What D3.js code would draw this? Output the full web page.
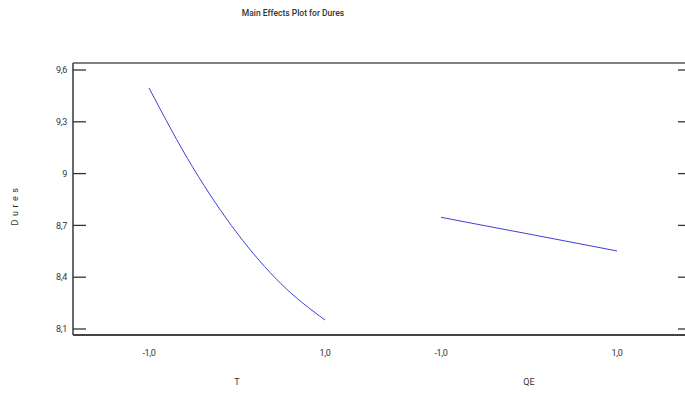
<!DOCTYPE html>
<html><head><meta charset="utf-8">
<script src="https://cdn.jsdelivr.net/npm/d3@7"></script>
<style>body{margin:0;background:#fff}svg{display:block}text{font-family:Roboto,"Liberation Sans",sans-serif;fill:#333}</style>
</head><body>
<svg id="c" width="685" height="394"></svg>
<script>
const factors = ["T", "QE"];
const levels = [-1, -0.5, 0, 0.5, 1];
const valuesT = [9.496, 9.034, 8.656, 8.362, 8.152];
const valuesQE = [8.747, 8.698, 8.650, 8.601, 8.552];
const yTicks = [8.1, 8.4, 8.7, 9.0, 9.3, 9.6];
const xTickLevels = [-1, 1];
const title = "Main Effects Plot for Dures";
const yLabel = "Dures";

const svg = d3.select("#c");
const L = 73, R = 686, T = 63, B = 335;

const y = d3.scaleLinear().domain([8.1, 9.6]).range([329, 70]);
const band = d3.scaleBand().domain(factors).range([91, 675]).padding(0);
const inner = d3.scaleLinear().domain([-1, 1]).range([-88, 88]);
const xPos = (f, v) => band(f) + band.bandwidth() / 2 + inner(v);

const fmtY = v => (Number.isInteger(v) ? String(v) : v.toFixed(1)).replace(".", ",");
const fmtX = v => v.toFixed(1).replace(".", ",");

// frame
svg.append("line").attr("x1", L).attr("x2", R).attr("y1", T).attr("y2", T).attr("stroke", "#555").attr("stroke-width", 1.5);
svg.append("line").attr("x1", L).attr("x2", R).attr("y1", B).attr("y2", B).attr("stroke", "#444").attr("stroke-width", 2.2);
svg.append("line").attr("x1", L).attr("x2", L).attr("y1", T).attr("y2", B).attr("stroke", "#444").attr("stroke-width", 1.6);

// left axis ticks (inside)
const gy = svg.append("g");
yTicks.forEach(v => {
  gy.append("line").attr("x1", L).attr("x2", L + 13).attr("y1", y(v)).attr("y2", y(v)).attr("stroke", "#333").attr("stroke-width", 1.3);
  gy.append("line").attr("x1", R - 8).attr("x2", R - 1).attr("y1", y(v)).attr("y2", y(v)).attr("stroke", "#333").attr("stroke-width", 1.3);
  gy.append("text").attr("x", 67).attr("y", y(v)).attr("dy", "0.35em").attr("text-anchor", "end")
    .attr("font-size", 9).attr("letter-spacing", -0.3).text(fmtY(v));
});

// x tick labels
factors.forEach(f => {
  xTickLevels.forEach(v => {
    svg.append("text").attr("x", xPos(f, v)).attr("y", 356).attr("text-anchor", "middle")
      .attr("font-size", 9).attr("letter-spacing", -0.3).text(fmtX(v));
  });
  svg.append("text").attr("x", xPos(f, 0)).attr("y", 385).attr("text-anchor", "middle")
    .attr("font-size", 9).text(f);
});

// title
svg.append("text").attr("x", 293).attr("y", 16).attr("text-anchor", "middle")
  .attr("font-size", 8.5).attr("font-weight", 500).text(title);

// y label
svg.append("text").attr("transform", "translate(18,205) rotate(-90)").attr("text-anchor", "middle")
  .attr("font-size", 9).attr("letter-spacing", 3.5).text(yLabel);

// lines
const series = [{f: "T", vals: valuesT}, {f: "QE", vals: valuesQE}];
series.forEach(s => {
  const line = d3.line().x((d, i) => xPos(s.f, levels[i])).y(d => y(d)).curve(d3.curveMonotoneX);
  svg.append("path").datum(s.vals).attr("d", line).attr("fill", "none")
    .attr("stroke", "#4040d8").attr("stroke-width", 1);
});
</script>
</body></html>
